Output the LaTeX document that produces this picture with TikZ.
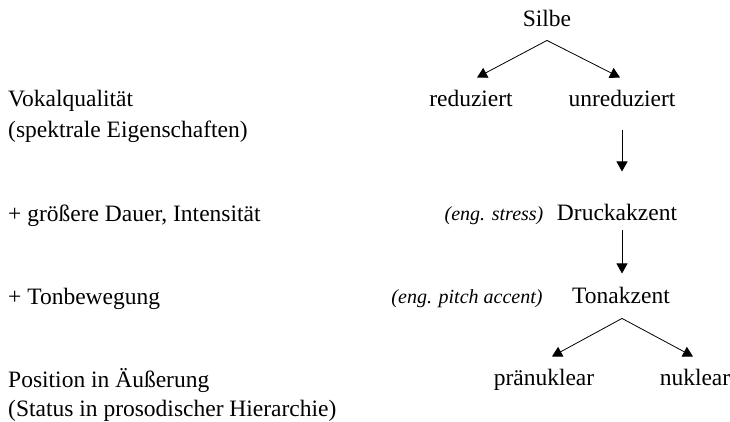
\documentclass[tikz,border=0pt]{standalone}
\usepackage{fontspec}
\setmainfont{Liberation Serif}
\usetikzlibrary{arrows.meta}

\tikzset{
	txt/.style={anchor=base, inner sep=0pt},
	lft/.style={anchor=base west, inner sep=0pt},
	eng/.style={anchor=base, inner sep=0pt, font=\fontsize{20}{24}\selectfont\itshape},
	tip/.style={-{Triangle[length=10pt,width=11pt]}, line width=0.8pt}
}

\begin{document}
\begin{tikzpicture}[x=1pt, y=-1pt, font=\fontsize{23.5}{29}\selectfont]
\useasboundingbox (0, 0) rectangle (730, 422);

% left column
\node[lft] (vq) at (8, 107) {Vokalqualität};
\node[lft] (vqb) at (8, 138) {(spektrale Eigenschaften)};
\node[lft] (dauer) at (8, 221) {+ größere Dauer, Intensität};
\node[lft] (ton) at (8, 304) {+ Tonbewegung};
\node[lft] (pos) at (8, 387) {Position in Äußerung};
\node[lft] (posb) at (8, 416) {(Status in prosodischer Hierarchie)};

% tree
\node[txt] (silbe) at (547, 27) {Silbe};
\node[txt] (red) at (471, 107) {reduziert};
\node[txt] (unred) at (622, 107) {unreduziert};
\node[txt] (druck) at (617, 220) {Druckakzent};
\node[eng] (stress) at (494, 220) {(eng. stress)};
\node[txt] (tonak) at (621, 303) {Tonakzent};
\node[eng] (pitch) at (467, 303) {(eng. pitch accent)};
\node[txt] (praen) at (544, 385) {pränuklear};
\node[txt] (nukl) at (695, 385) {nuklear};

\draw[tip] ([yshift=-13pt]silbe.south) -- ([xshift=6pt, yshift=13pt]red.north);
\draw[tip] ([yshift=-13pt]silbe.south) -- ([xshift=-2pt, yshift=13pt]unred.north);
\draw[tip] ([yshift=-23pt]unred.south) -- ([yshift=32pt]druck.north -| unred.south);
\draw[tip] ([yshift=-10pt]druck.south -| unred.south) -- ([yshift=13pt]tonak.north -| unred.south);
\draw[tip] ([xshift=1pt, yshift=-15pt]tonak.south) -- ([xshift=8pt, yshift=12pt]praen.north);
\draw[tip] ([xshift=1pt, yshift=-15pt]tonak.south) -- ([xshift=-2pt, yshift=12pt]nukl.north);
\end{tikzpicture}
\end{document}
